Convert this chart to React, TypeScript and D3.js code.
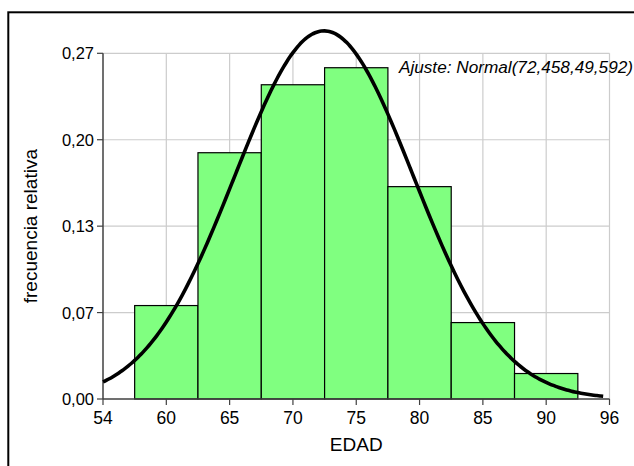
import React from "react";
import * as d3 from "d3";

const binStarts = [57.5, 62.5, 67.5, 72.5, 77.5, 82.5, 87.5];
const binWidth = 5;
const relFreq = [0.0719, 0.1895, 0.2418, 0.2549, 0.1634, 0.0588, 0.0196];

const xTickValues = [55, 60, 65, 70, 75, 80, 85, 90, 95];
const xTickLabels = ["54", "60", "65", "70", "75", "80", "85", "90", "96"];
const yMax = 0.266;
const yTickValues = [0, yMax / 4, yMax / 2, (3 * yMax) / 4, yMax];
const yTickLabels = ["0,00", "0,07", "0,13", "0,20", "0,27"];

const fitMean = 72.458;
const fitVariance = 49.592;
const curveRange = [55, 94.5];

const W = 634;
const H = 466;
const font = "'Liberation Sans', Arial, sans-serif";

export default function App() {
  const x = d3.scaleLinear().domain([55, 95]).range([103, 609.5]);
  const y = d3.scaleLinear().domain([0, yMax]).range([399, 53.3]);

  const sd = Math.sqrt(fitVariance);
  const pdf = (v: number) =>
    (binWidth / (sd * Math.sqrt(2 * Math.PI))) *
    Math.exp(-0.5 * ((v - fitMean) / sd) ** 2);
  const pts: [number, number][] = d3
    .range(curveRange[0], curveRange[1] + 0.001, 0.25)
    .map((v) => [v, pdf(v)]);
  const line = d3
    .line<[number, number]>()
    .x((d) => x(d[0]))
    .y((d) => y(d[1]))
    .curve(d3.curveMonotoneX);

  const [x0, x1] = x.range();
  const [yb, yt] = y.range();

  return (
    <svg
      width={W}
      height={H}
      style={{ position: "absolute", left: 0, top: 0, background: "#fff" }}
    >
      <rect x={0} y={0} width={W} height={H} fill="#fff" />
      <rect
        x={8.3}
        y={12.3}
        width={700}
        height={600}
        fill="none"
        stroke="#000"
        strokeWidth={2}
      />
      {/* grid */}
      {xTickValues.slice(1).map((v) => (
        <line
          key={"gx" + v}
          x1={x(v)}
          x2={x(v)}
          y1={yb}
          y2={yt}
          stroke="#cccccc"
          strokeWidth={1.2}
        />
      ))}
      {yTickValues.slice(1).map((v) => (
        <line
          key={"gy" + v}
          x1={x0}
          x2={x1}
          y1={y(v)}
          y2={y(v)}
          stroke="#cccccc"
          strokeWidth={1.2}
        />
      ))}
      {/* bars */}
      {binStarts.map((s, i) => (
        <rect
          key={"b" + i}
          x={x(s)}
          y={y(relFreq[i])}
          width={x(s + binWidth) - x(s)}
          height={yb - y(relFreq[i])}
          fill="#80ff80"
          stroke="#000"
          strokeWidth={1.2}
        />
      ))}
      {/* axes */}
      <line x1={x0} x2={x0} y1={yb} y2={yt} stroke="#404040" strokeWidth={1.5} />
      <line x1={x0} x2={x1} y1={yb} y2={yb} stroke="#404040" strokeWidth={1.5} />
      {yTickValues.map((v, i) => (
        <g key={"yt" + i}>
          <line x1={x0 - 6} x2={x0} y1={y(v)} y2={y(v)} stroke="#404040" strokeWidth={1.2} />
          <text
            x={x0 - 9}
            y={y(v)}
            dy="0.36em"
            textAnchor="end"
            fontFamily={font}
            fontSize={16.5}
            fill="#000"
          >
            {yTickLabels[i]}
          </text>
        </g>
      ))}
      {xTickValues.map((v, i) => (
        <g key={"xt" + i}>
          <line x1={x(v)} x2={x(v)} y1={yb} y2={yb + 6} stroke="#404040" strokeWidth={1.2} />
          <text
            x={x(v)}
            y={424}
            textAnchor="middle"
            fontFamily={font}
            fontSize={17.5}
            fill="#000"
          >
            {xTickLabels[i]}
          </text>
        </g>
      ))}
      {/* curve */}
      <path d={line(pts) || ""} fill="none" stroke="#000" strokeWidth={3.6} />
      {/* labels */}
      <text
        x={(x0 + x1) / 2}
        y={450.5}
        textAnchor="middle"
        fontFamily={font}
        fontSize={19}
        fill="#000"
      >
        EDAD
      </text>
      <text
        transform={`translate(37,${(yb + yt) / 2}) rotate(-90)`}
        textAnchor="middle"
        fontFamily={font}
        fontSize={19}
        fill="#000"
      >
        frecuencia relativa
      </text>
      <text
        x={633}
        y={73.3}
        textAnchor="end"
        fontFamily={font}
        fontStyle="italic"
        fontSize={17.2}
        fill="#000"
      >
        Ajuste: Normal(72,458,49,592)
      </text>
    </svg>
  );
}
